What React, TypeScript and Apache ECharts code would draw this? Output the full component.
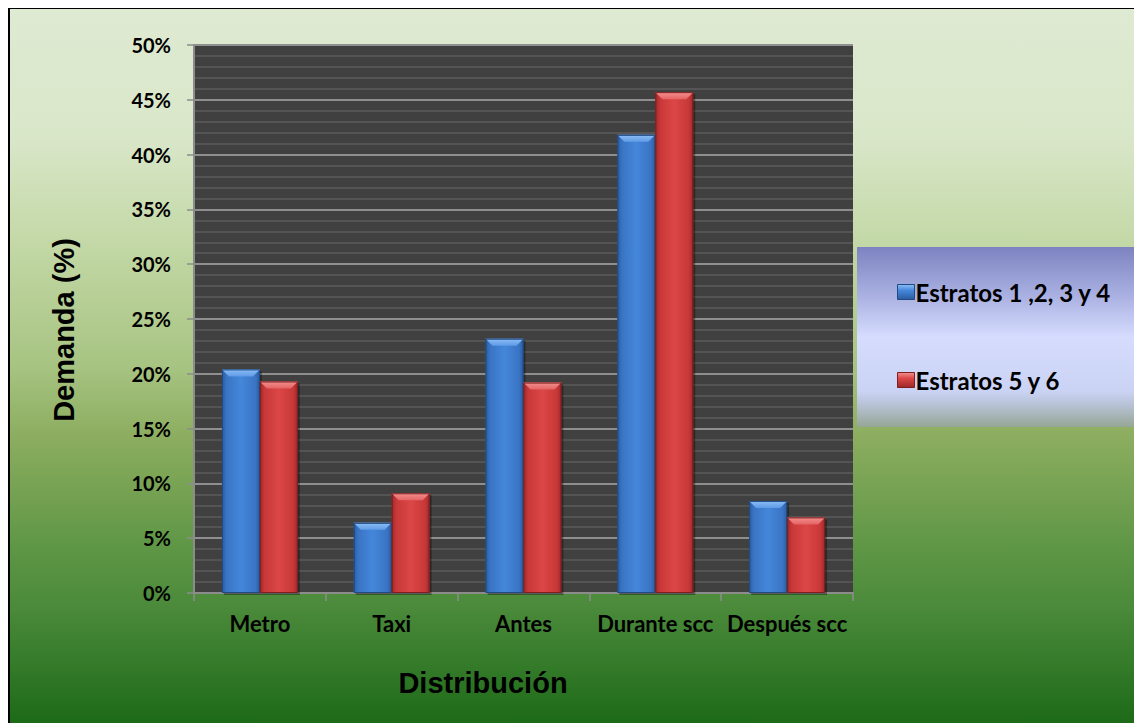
import React, { useEffect, useRef } from "react";
import * as echarts from "echarts";

// Demanda por distribución, en porcentaje
const categories = ["Metro", "Taxi", "Antes", "Durante scc", "Después scc"];
const estratos1a4 = [20.4, 6.4, 23.2, 41.8, 8.4];
const estratos5y6 = [19.3, 9.1, 19.2, 45.7, 6.9];
const seriesNames = ["Estratos 1 ,2, 3 y 4", "Estratos 5 y 6"];
const yAxisTitle = "Demanda (%)";
const xAxisTitle = "Distribución";

const LABEL_FONT = "Lato, 'Open Sans', sans-serif";
const TITLE_FONT = "'Liberation Sans', Arial, sans-serif";

type Palette = { dark: string; mid: string; light: string; top: string; topLight: string; edge: string };

const blue: Palette = {
  dark: "#2b5c9e",
  mid: "#3a74c4",
  light: "#4487da",
  top: "#5f9be6",
  topLight: "#8dbef5",
  edge: "#1f4a84",
};
const red: Palette = {
  dark: "#9c2828",
  mid: "#c83838",
  light: "#dc4646",
  top: "#e56464",
  topLight: "#f29090",
  edge: "#7e1e1e",
};

// Beveled bar drawn through the category/value scales of the grid
function bevelBar(slot: number, pal: Palette) {
  return (_params: any, api: any) => {
    const i = api.value(0);
    const v = api.value(1);
    const base = api.coord([i, 0]);
    const top = api.coord([i, v]);
    const band = api.size([1, 0])[0];
    const w = band * 0.288;
    const x = base[0] - w + slot * w;
    const y = top[1];
    const h = base[1] - top[1];
    const b = Math.min(7, h / 2);
    return {
      type: "group",
      children: [
        {
          type: "rect",
          shape: { x: x + 2, y: y + 2, width: w, height: h },
          style: { fill: "rgba(0,0,0,0.35)" },
        },
        {
          type: "rect",
          shape: { x, y, width: w, height: h },
          style: {
            fill: new echarts.graphic.LinearGradient(0, 0, 1, 0, [
              { offset: 0, color: pal.dark },
              { offset: 0.12, color: pal.mid },
              { offset: 0.5, color: pal.light },
              { offset: 0.88, color: pal.mid },
              { offset: 1, color: pal.dark },
            ]),
          },
        },
        {
          type: "polygon",
          shape: { points: [[x, y], [x + w, y], [x + w - b, y + b], [x + b, y + b]] },
          style: {
            fill: new echarts.graphic.LinearGradient(0, 0, 0, 1, [
              { offset: 0, color: pal.topLight },
              { offset: 1, color: pal.top },
            ]),
          },
        },
        {
          type: "rect",
          shape: { x: x + 0.5, y: y + 0.5, width: w - 1, height: h - 1 },
          style: { fill: "none", stroke: pal.edge, lineWidth: 1 },
        },
      ],
    };
  };
}

function legendIcon(pal: Palette) {
  return new echarts.graphic.LinearGradient(0, 0, 0, 1, [
    { offset: 0, color: pal.topLight },
    { offset: 0.4, color: pal.light },
    { offset: 1, color: pal.dark },
  ]);
}

export default function App() {
  const ref = useRef<HTMLDivElement>(null);

  useEffect(() => {
    document.body.style.overflow = "hidden";
    if (!ref.current) return;
    const chart = echarts.init(ref.current, undefined, { renderer: "svg" });

    chart.setOption({
      animation: false,
      backgroundColor: new echarts.graphic.LinearGradient(0, 0, 0, 1, [
        { offset: 0, color: "#dfead2" },
        { offset: 0.18, color: "#d9e7c9" },
        { offset: 0.33, color: "#c3d8a6" },
        { offset: 0.5, color: "#a7c482" },
        { offset: 0.6, color: "#8cad5f" },
        { offset: 0.75, color: "#5f9746" },
        { offset: 0.84, color: "#4a8a3a" },
        { offset: 1, color: "#1d6a18" },
      ]),
      grid: {
        left: 186,
        top: 37,
        width: 659,
        height: 548,
        show: true,
        backgroundColor: "#404040",
        borderWidth: 0,
        containLabel: false,
      },
      xAxis: {
        type: "category",
        data: categories,
        boundaryGap: true,
        axisLine: { show: true, lineStyle: { color: "#8c8c8c", width: 2 } },
        axisTick: { show: true, interval: 0, length: 8, lineStyle: { color: "#8c8c8c", width: 1.5 } },
        axisLabel: {
          interval: 0,
          margin: 19,
          color: "#000",
          fontFamily: LABEL_FONT,
          fontWeight: "bold",
          fontSize: 22,
        },
        splitLine: { show: false },
      },
      yAxis: {
        type: "value",
        min: 0,
        max: 50,
        interval: 5,
        axisLine: { show: true, lineStyle: { color: "#8c8c8c", width: 2 } },
        axisTick: { show: true, length: 7, lineStyle: { color: "#8c8c8c", width: 1.5 } },
        minorTick: { show: false, splitNumber: 5 },
        axisLabel: {
          formatter: "{value}%",
          margin: 23,
          color: "#000",
          fontFamily: LABEL_FONT,
          fontWeight: "bold",
          fontSize: 20,
        },
        splitLine: { show: true, lineStyle: { color: "#8f8f8f", width: 2 } },
        minorSplitLine: { show: true, lineStyle: { color: "#5b5b5b", width: 1.5 } },
      },
      legend: {
        orient: "vertical",
        left: 884,
        top: 267,
        itemWidth: 17,
        itemHeight: 15,
        itemGap: 64,
        icon: "rect",
        data: [
          { name: seriesNames[0], itemStyle: { color: legendIcon(blue), borderColor: blue.edge, borderWidth: 1 } },
          { name: seriesNames[1], itemStyle: { color: legendIcon(red), borderColor: red.edge, borderWidth: 1 } },
        ],
        textStyle: {
          color: "#000",
          fontFamily: LABEL_FONT,
          fontWeight: "bold",
          fontSize: 24,
          padding: [0, 0, 0, -4],
        },
        z: 10,
      },
      series: [
        {
          name: seriesNames[0],
          type: "custom",
          renderItem: bevelBar(0, blue),
          itemStyle: { color: blue.mid },
          encode: { x: 0, y: 1 },
          data: estratos1a4.map((v, i) => [i, v]),
        },
        {
          name: seriesNames[1],
          type: "custom",
          renderItem: bevelBar(1, red),
          itemStyle: { color: red.mid },
          encode: { x: 0, y: 1 },
          data: estratos5y6.map((v, i) => [i, v]),
        },
      ],
      graphic: [
        {
          type: "rect",
          z: 1,
          shape: { x: 849, y: 239, width: 290, height: 180 },
          style: {
            fill: new echarts.graphic.LinearGradient(0, 0, 0, 1, [
              { offset: 0, color: "#7c83c0" },
              { offset: 0.25, color: "#a6addf" },
              { offset: 0.5, color: "#d5dcfe" },
              { offset: 0.8, color: "#cbd3f4" },
              { offset: 0.88, color: "#b7c1d4" },
              { offset: 1, color: "#96a695" },
            ]),
          },
        },
        {
          type: "text",
          z: 5,
          x: 56,
          y: 322,
          rotation: Math.PI / 2,
          style: {
            text: yAxisTitle,
            fill: "#000",
            font: `bold 29px ${TITLE_FONT}`,
            align: "center",
            verticalAlign: "middle",
          },
        },
        {
          type: "text",
          z: 5,
          x: 475,
          y: 675,
          style: {
            text: xAxisTitle,
            fill: "#000",
            font: `bold 29px ${TITLE_FONT}`,
            align: "center",
            verticalAlign: "middle",
          },
        },
        {
          type: "rect",
          z: 20,
          shape: { x: 1, y: 0, width: 1200, height: 800 },
          style: { fill: "none", stroke: "#000", lineWidth: 2 },
        },
      ],
    });

    return () => chart.dispose();
  }, []);

  return <div ref={ref} style={{ width: 1134, height: 715 }} />;
}
